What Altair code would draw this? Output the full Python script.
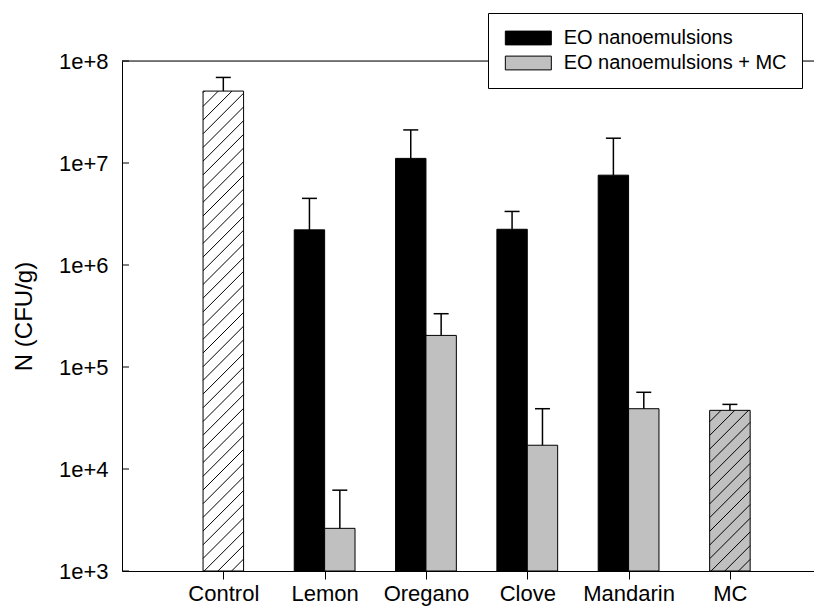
import altair as alt
import pandas as pd
import numpy as np

# ---------------- data ----------------
categories = ["Control", "Lemon", "Oregano", "Clove", "Mandarin", "MC"]
series = ["EO nanoemulsions", "EO nanoemulsions + MC"]

eo_names = ["Lemon", "Oregano", "Clove", "Mandarin"]
nano = [2.21e6, 1.11e7, 2.24e6, 7.6e6]
nano_upper = [4.5e6, 2.11e7, 3.35e6, 1.75e7]
nano_mc = [2.62e3, 2.04e5, 1.71e4, 3.9e4]
nano_mc_upper = [6.2e3, 3.33e5, 3.9e4, 5.65e4]

single_names = ["Control", "MC"]
single_vals = [5.07e7, 3.76e4]
single_upper = [6.9e7, 4.3e4]
single_fill = ["white", "#c0c0c0"]

y_ticks = [1e3, 1e4, 1e5, 1e6, 1e7, 1e8]

# ---------------- layout ----------------
W, H = 692, 510
XMAX = 6.83
YMIN, YMAX = 1e3, 1e8
GBAR = 0.3      # width of grouped bar (x units)
SHALF = 0.2     # half-width of single bar
CAP = 0.074     # half-width of error cap
FONT = "Liberation Sans, Arial, Helvetica, sans-serif"

kx = W / XMAX
ky = H / (np.log10(YMAX) - np.log10(YMIN))

# grouped bars
rows = []
for i, name in enumerate(eo_names):
    pos = categories.index(name) + 1
    rows.append(dict(cat=name, series=series[0], x0=pos - GBAR, x1=pos,
                     val=nano[i], up=nano_upper[i], base=YMIN))
    rows.append(dict(cat=name, series=series[1], x0=pos, x1=pos + GBAR,
                     val=nano_mc[i], up=nano_mc_upper[i], base=YMIN))
gdf = pd.DataFrame(rows)

srows = []
for i, name in enumerate(single_names):
    pos = categories.index(name) + 1
    srows.append(dict(cat=name, x0=pos - SHALF, x1=pos + SHALF, val=single_vals[i],
                      up=single_upper[i], base=YMIN, fill=single_fill[i]))
sdf = pd.DataFrame(srows)

edf = pd.concat([gdf[["x0", "x1", "val", "up"]], sdf[["x0", "x1", "val", "up"]]], ignore_index=True)
edf["xc"] = (edf["x0"] + edf["x1"]) / 2
edf["c0"] = edf["xc"] - CAP
edf["c1"] = edf["xc"] + CAP

# hatch lines (decoration derived from single bars)
def hatch(xl, xr, yb, yt, step=13.7):
    segs = []
    k0 = int(np.floor((yb - xr) / step)) - 1
    k1 = int(np.ceil((yt - xl) / step)) + 1
    for k in range(k0, k1 + 1):
        c = k * step
        xs = max(xl, yb - c)
        xe = min(xr, yt - c)
        if xe - xs > 0.5:
            segs.append((xs, xs + c, xe, xe + c))
    return segs

hrows = []
for _, r in sdf.iterrows():
    xl, xr = r.x0 * kx, r.x1 * kx
    yb = 0.0
    yt = (np.log10(r.val) - np.log10(YMIN)) * ky
    for (a, b, c, d) in hatch(xl, xr, yb, yt):
        hrows.append(dict(hx0=a / kx, hy0=10 ** (np.log10(YMIN) + b / ky),
                          hx1=c / kx, hy1=10 ** (np.log10(YMIN) + d / ky)))
hdf = pd.DataFrame(hrows)

tdf = pd.DataFrame({"t": y_ticks})

xscale = alt.Scale(domain=[0, XMAX], nice=False, zero=False)
yscale = alt.Scale(type="log", domain=[YMIN, YMAX], nice=False)

label_js = "[" + ",".join("'" + c + "'" for c in categories) + "][datum.value-1]"

xaxis = alt.Axis(values=list(range(1, len(categories) + 1)), labelExpr=label_js,
                 title=None, grid=False, tickSize=8, tickColor="black", tickWidth=1,
                 domainColor="black", domainWidth=1, labelFontSize=22, labelPadding=4,
                 labelFont=FONT, labelColor="black")
yaxis = alt.Axis(values=y_ticks, labelExpr="'1e+' + round(log(datum.value)/LN10)",
                 title="N (CFU/g)", grid=False, ticks=False, domainColor="black",
                 domainWidth=1, labelFontSize=22, labelPadding=14, labelFont=FONT,
                 labelColor="black", titleFont=FONT, titleFontSize=24,
                 titleFontWeight="normal", titleColor="black", titlePadding=22)

SYM_W = 46.0
SYM_R = SYM_W / 6.0          # path spans 6 units wide
SYM_SIZE = (2 * SYM_R) ** 2
sym_path = "M-1,-0.9H5V0.9H-1Z"

bars = alt.Chart(gdf).mark_bar(stroke="black", strokeWidth=1).encode(
    x=alt.X("x0:Q", scale=xscale, axis=xaxis),
    x2="x1",
    y=alt.Y("val:Q", scale=yscale, axis=yaxis),
    y2="base",
    color=alt.Color("series:N", scale=alt.Scale(domain=series, range=["black", "#c0c0c0"]),
                    legend=alt.Legend(orient="none", legendX=366, legendY=-48, title=None,
                                      fillColor="white", strokeColor="black", padding=15,
                                      symbolType=sym_path, symbolSize=SYM_SIZE,
                                      symbolStrokeColor="black", symbolStrokeWidth=1,
                                      labelFontSize=20, labelFont=FONT, labelColor="black",
                                      labelOffset=10 + SYM_W - 2 * SYM_R, rowPadding=5,
                                      labelLimit=400)),
)

single_fill_layer = alt.Chart(sdf).mark_bar(strokeWidth=0).encode(
    x=alt.X("x0:Q", scale=xscale, axis=xaxis),
    x2="x1",
    y=alt.Y("val:Q", scale=yscale, axis=yaxis),
    y2="base",
    fill=alt.Fill("fill:N", scale=None),
)

hatch_layer = alt.Chart(hdf).mark_rule(color="black", strokeWidth=1).encode(
    x=alt.X("hx0:Q", scale=xscale, axis=xaxis),
    x2="hx1",
    y=alt.Y("hy0:Q", scale=yscale, axis=yaxis),
    y2="hy1",
)

single_outline = alt.Chart(sdf).mark_bar(fillOpacity=0, stroke="black", strokeWidth=1).encode(
    x=alt.X("x0:Q", scale=xscale, axis=xaxis),
    x2="x1",
    y=alt.Y("val:Q", scale=yscale, axis=yaxis),
    y2="base",
)

err_rule = alt.Chart(edf).mark_rule(color="black", strokeWidth=1.5).encode(
    x=alt.X("xc:Q", scale=xscale, axis=xaxis),
    y=alt.Y("val:Q", scale=yscale, axis=yaxis),
    y2="up",
)
err_cap = alt.Chart(edf).mark_rule(color="black", strokeWidth=1.5).encode(
    x=alt.X("c0:Q", scale=xscale, axis=xaxis),
    x2="c1",
    y=alt.Y("up:Q", scale=yscale, axis=yaxis),
)

top_line = alt.Chart(tdf).mark_rule(color="black", strokeWidth=1).encode(
    y=alt.Y("t:Q", scale=yscale, axis=yaxis),
).transform_filter(alt.datum.t == YMAX)

in_ticks = alt.Chart(tdf).mark_rule(color="black", strokeWidth=1).encode(
    y=alt.Y("t:Q", scale=yscale, axis=yaxis),
    x=alt.value(0),
    x2=alt.value(7),
)

chart = alt.layer(
    bars, single_fill_layer, hatch_layer, single_outline, err_rule, err_cap, top_line, in_ticks
).properties(
    width=W, height=H, autosize=alt.AutoSizeParams(type="none"),
    padding={"left": 114, "top": 53, "right": 0, "bottom": 39},
).configure_view(stroke=None).configure(background="white")

chart.save("out.html", embed_options={"renderer": "svg", "actions": False})
